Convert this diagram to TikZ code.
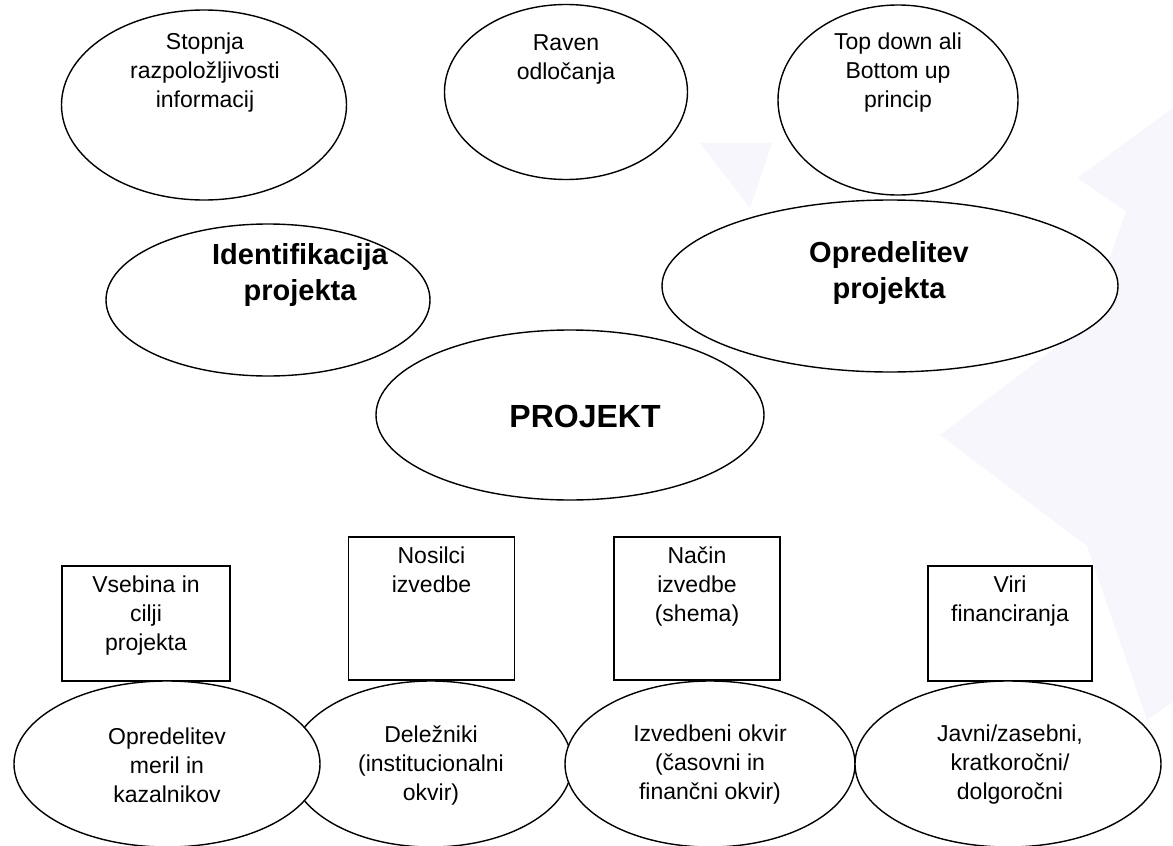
\documentclass[tikz,border=0pt]{standalone}
\usepackage{fontspec}
\setmainfont{Liberation Sans}
\usetikzlibrary{shapes.geometric,positioning}

\definecolor{starbg}{RGB}{246,246,252}

\tikzset{
  oval/.style={ellipse, draw, fill=white, line width=0.7pt, inner sep=0pt},
  frame/.style={rectangle, draw, fill=white, line width=0.7pt, inner sep=0pt},
  txt/.style={align=center, inner sep=0pt, font=\fontsize{11.5}{14.5}\selectfont},
  bold/.style={align=center, inner sep=0pt, font=\fontsize{14.5}{18}\selectfont\bfseries}
}

\begin{document}
\begin{tikzpicture}[x=0.5pt, y=-0.5pt]
  \useasboundingbox (0,0) rectangle (1173,846);

  % faint stars in the background
  \fill[starbg] (940,435) -- (1087,324) -- (1147,150) -- (1298,255) -- (1483,259)
    -- (1429,435) -- (1483,611) -- (1298,615) -- (1147,720) -- (1087,546) -- cycle;
  \fill[starbg] (1077,178) -- (1173,108) -- (1173,243) -- cycle;
  \fill[starbg] (700,143) -- (772,143) -- (750,208) -- cycle;

  % top row
  \node[oval, minimum width=142.5pt, minimum height=95pt] (stopnja) at (204,105) {};
  \node[oval, minimum width=121.5pt, minimum height=87.5pt] (raven) at (566,92) {};
  \node[oval, minimum width=120pt, minimum height=95pt] (princip) at (898,100) {};
  \node[txt] (tstopnja) at (205,73) {Stopnja\\razpoložljivosti\\informacij};
  \node[txt] (traven) at (566,59) {Raven\\odločanja};
  \node[txt] (tprincip) at (898,73) {Top down ali\\Bottom up\\princip};

  % middle row
  \node[oval, minimum width=162pt, minimum height=76pt] (ident) at (268,300) {};
  \node[oval, minimum width=228pt, minimum height=86pt] (opred) at (890,286) {};
  \node[oval, minimum width=194pt, minimum height=85pt] (projekt) at (570,415) {};
  \node[bold] (tident) at (300,275) {Identifikacija\\projekta};
  \node[bold] (topred) at (889,273) {Opredelitev\\projekta};
  \node[bold, font=\fontsize{16}{18}\selectfont\bfseries] (tprojekt) at (585,416) {PROJEKT};

  % boxes
  \node[frame, minimum width=84pt, minimum height=57.5pt] (vsebina) at (146,623.5) {};
  \node[frame, minimum width=83pt, minimum height=71.5pt] (nosilci) at (431.5,608.5) {};
  \node[frame, minimum width=83pt, minimum height=71.5pt] (nacin) at (697,608.5) {};
  \node[frame, minimum width=82pt, minimum height=57.5pt] (viri) at (1010,623.5) {};
  \node[txt, below=5pt of vsebina.north] (tvsebina) {Vsebina in\\cilji\\projekta};
  \node[txt, below=5pt of nosilci.north] (tnosilci) {Nosilci\\izvedbe};
  \node[txt, below=5pt of nacin.north] (tnacin) {Način\\izvedbe\\(shema)};
  \node[txt, below=5pt of viri.north] (tviri) {Viri\\financiranja};

  % bottom row
  \node[oval, minimum width=141pt, minimum height=83pt] (delez) at (431,764) {};
  \node[oval, minimum width=153pt, minimum height=83pt] (meril) at (167,764) {};
  \node[oval, minimum width=145pt, minimum height=83pt] (izved) at (710,764) {};
  \node[oval, minimum width=153pt, minimum height=83pt] (javni) at (1008,764) {};
  \node[txt] (tmeril) at (167,765) {Opredelitev\\meril in\\kazalnikov};
  \node[txt] (tdelez) at (431,765) {Deležniki\\(institucionalni\\okvir)};
  \node[txt] (tizved) at (710,765) {Izvedbeni okvir\\(časovni in\\finančni okvir)};
  \node[txt] (tjavni) at (1010,765) {Javni/zasebni,\\kratkoročni/\\dolgoročni};
\end{tikzpicture}
\end{document}
